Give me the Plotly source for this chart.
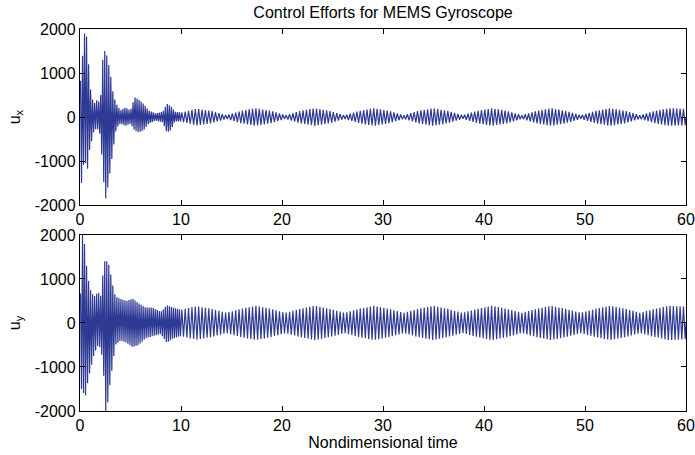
import numpy as np
import plotly.graph_objects as go
from plotly.subplots import make_subplots

# ---- data ----
carrier_period = 1 / 3          # steady oscillation period (nondimensional time)
transient_period = 0.2          # faster oscillation during the start-up transient
transient_end = 10.0
t_end = 60

# u_x envelope knots: time, upper peak, lower peak
ux_knot_t = [0.0, 0.2, 0.38, 0.52, 0.7, 0.9, 1.1, 1.4, 1.7, 2.0, 2.3, 2.45, 2.6, 2.75, 3.0, 3.3, 3.6,
             4.0, 4.5, 5.0, 5.4, 5.8, 6.3, 6.8, 7.5, 8.2, 8.6, 9.0, 9.4, 10.0,
             11.55, 13.0, 14.5, 15.95, 17.4, 18.9, 20.35, 21.8, 23.25, 24.7, 26.2,
             27.65, 29.1, 30.6, 32.05, 33.5, 34.95, 36.4, 37.9, 39.35, 40.8, 42.3,
             43.75, 45.2, 46.65, 48.1, 49.6, 51.05, 52.5, 54.0, 55.45, 56.9, 58.35, 60.0]
ux_upper = [700, 1200, 1900, 1900, 1800, 1000, 500, 300, 400, 300, 1500, 1500, 1450, 1300, 1000, 500, 300,
            150, 220, 150, 450, 400, 300, 150, 80, 120, 300, 250, 120, 100,
            190, 140, 40, 140, 200, 140, 40, 140, 200, 140, 40,
            140, 200, 140, 40, 140, 200, 140, 40, 140, 200, 140,
            40, 140, 200, 140, 40, 140, 200, 140, 40, 140, 200, 185]
ux_lower = [-1500, -1500, -1000, -1000, -1300, -800, -600, -300, -250, -400, -1300, -1850, -1850, -1600, -1200, -700, -250,
            -150, -200, -150, -300, -350, -300, -150, -80, -120, -350, -300, -100, -100,
            -190, -140, -40, -140, -200, -140, -40, -140, -200, -140, -40,
            -140, -200, -140, -40, -140, -200, -140, -40, -140, -200, -140,
            -40, -140, -200, -140, -40, -140, -200, -140, -40, -140, -200, -185]

# u_y envelope knots: time, upper peak, lower peak
uy_knot_t = [0.0, 0.15, 0.25, 0.38, 0.55, 0.8, 1.1, 1.4, 1.8, 2.1, 2.35, 2.5, 2.65, 2.9, 3.2, 3.5,
             4.0, 4.6, 5.2, 5.8, 6.5, 7.2, 8.0, 8.6, 9.2, 10.0,
             11.55, 13.0, 14.5, 15.95, 17.4, 18.9, 20.35, 21.8, 23.25, 24.7, 26.2,
             27.65, 29.1, 30.6, 32.05, 33.5, 34.95, 36.4, 37.9, 39.35, 40.8, 42.3,
             43.75, 45.2, 46.65, 48.1, 49.6, 51.05, 52.5, 54.0, 55.45, 56.9, 58.35, 60.0]
uy_upper = [500, 1000, 2000, 2000, 1500, 1000, 700, 600, 700, 600, 1400, 1400, 1400, 1300, 900, 600,
            550, 500, 550, 450, 350, 350, 250, 400, 350, 300,
            380, 320, 230, 320, 390, 320, 230, 320, 390, 320, 230,
            320, 390, 320, 230, 320, 390, 320, 230, 320, 390, 320,
            230, 320, 390, 320, 230, 320, 390, 320, 230, 320, 390, 370]
uy_lower = [-1000, -1500, -1400, -1650, -1650, -1300, -1000, -700, -500, -600, -1200, -2000, -2000, -1500, -1000, -500,
            -400, -450, -550, -500, -350, -300, -250, -450, -350, -300,
            -380, -320, -230, -320, -390, -320, -230, -320, -390, -320, -230,
            -320, -390, -320, -230, -320, -390, -320, -230, -320, -390, -320,
            -230, -320, -390, -320, -230, -320, -390, -320, -230, -320, -390, -370]

x_ticks = [0, 10, 20, 30, 40, 50, 60]
y_ticks = [-2000, -1000, 0, 1000, 2000]
y_tick_text = ["-2000", "-1000", "0", "1000", "2000"]


def peak_times():
    times = []
    t = transient_period / 4
    while t < transient_end:
        times.append(t)
        t += transient_period / 2
    t = transient_end + carrier_period / 4
    while t < t_end:
        times.append(t)
        t += carrier_period / 2
    return np.array(times)


def series(knot_t, upper, lower):
    tk = peak_times()
    up = np.interp(tk, knot_t, upper)
    lo = np.interp(tk, knot_t, lower)
    vals = np.where(np.arange(len(tk)) % 2 == 0, up, lo)
    return (np.concatenate([[0.0], tk, [t_end]]),
            np.concatenate([[upper[0]], vals, [0.0]]))


tx, ux = series(ux_knot_t, ux_upper, ux_lower)
ty, uy = series(uy_knot_t, uy_upper, uy_lower)

line_color = "#2E3A94"
font = dict(family="Liberation Sans, Arial, sans-serif", size=16, color="black")

fig = make_subplots(rows=2, cols=1, vertical_spacing=0.0785)
fig.add_trace(go.Scatter(x=tx, y=ux, mode="lines", line=dict(color=line_color, width=1.2),
                         showlegend=False), row=1, col=1)
fig.add_trace(go.Scatter(x=ty, y=uy, mode="lines", line=dict(color=line_color, width=1.2),
                         showlegend=False), row=2, col=1)

axis_common = dict(showline=True, linecolor="black", linewidth=1.3, mirror="ticks",
                   ticks="inside", ticklen=5, tickcolor="black", showgrid=False,
                   zeroline=False, tickfont=font, automargin=False)
fig.update_xaxes(range=[0, 60], tickvals=x_ticks, ticklabelstandoff=0, **axis_common)
fig.update_yaxes(range=[-2000, 2000], tickvals=y_ticks, ticktext=y_tick_text, **axis_common)
fig.update_yaxes(title=dict(text="u<sub>x</sub>", font=font, standoff=10), row=1, col=1)
fig.update_yaxes(title=dict(text="u<sub>y</sub>", font=font, standoff=10), row=2, col=1)
fig.update_xaxes(title=dict(text="Nondimensional time", font=font, standoff=0), row=2, col=1)
fig.update_layout(yaxis=dict(domain=[0.539, 1.0]), yaxis2=dict(domain=[0.0, 0.461]))

fig.update_layout(
    width=695, height=455,
    margin=dict(l=80, r=9, t=29, b=44),
    paper_bgcolor="white", plot_bgcolor="white",
    font=font,
    title=dict(text="Control Efforts for MEMS Gyroscope", x=383 / 695, xanchor="center",
               y=1 - 12 / 455, yanchor="middle", font=font),
)

fig.write_html("out.html")
